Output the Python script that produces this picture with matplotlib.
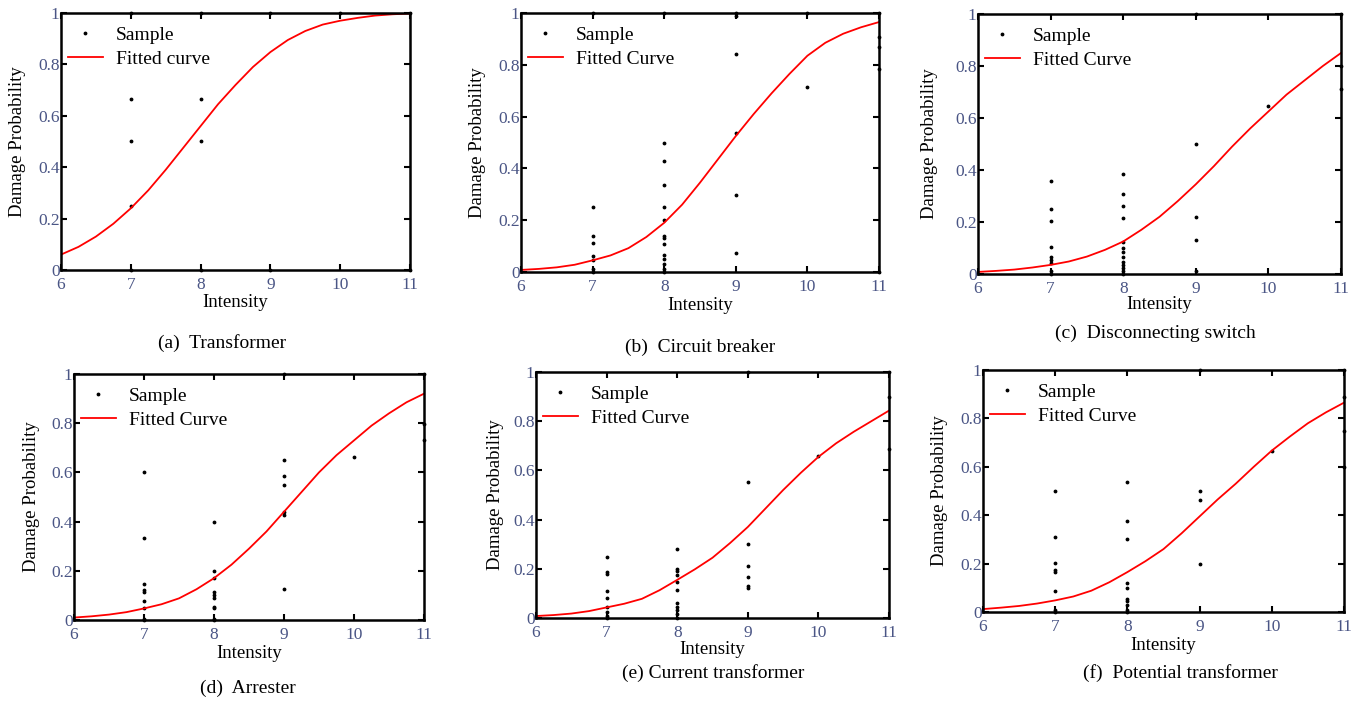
import matplotlib.pyplot as plt

plt.rcParams['font.family'] = ['Liberation Serif', 'DejaVu Serif']

W, H = 1359, 703

# fitted curves at 0.25 steps
curve_x = [6, 6.25, 6.5, 6.75, 7, 7.25, 7.5, 7.75, 8, 8.25, 8.5, 8.75,
           9, 9.25, 9.5, 9.75, 10, 10.25, 10.5, 10.75, 11]
curve_a = [0.06, 0.09, 0.13, 0.18, 0.24, 0.31, 0.39, 0.475, 0.56, 0.645, 0.72,
           0.79, 0.848, 0.895, 0.93, 0.955, 0.97, 0.981, 0.99, 0.995, 0.998]
curve_b = [0.008, 0.012, 0.018, 0.028, 0.045, 0.064, 0.092, 0.135, 0.19, 0.26,
           0.345, 0.435, 0.525, 0.61, 0.69, 0.765, 0.835, 0.885, 0.92, 0.945, 0.965]
curve_c = [0.008, 0.012, 0.017, 0.025, 0.035, 0.048, 0.067, 0.093, 0.125, 0.17,
           0.22, 0.28, 0.345, 0.415, 0.49, 0.56, 0.625, 0.69, 0.745, 0.80, 0.85]
curve_d = [0.01, 0.015, 0.022, 0.032, 0.047, 0.064, 0.088, 0.125, 0.17, 0.225,
           0.29, 0.36, 0.44, 0.52, 0.60, 0.67, 0.73, 0.79, 0.84, 0.885, 0.92]
curve_e = [0.008, 0.012, 0.018, 0.028, 0.043, 0.058, 0.078, 0.113, 0.155, 0.198,
           0.245, 0.305, 0.37, 0.445, 0.52, 0.59, 0.655, 0.71, 0.757, 0.80, 0.843]
curve_f = [0.012, 0.018, 0.025, 0.035, 0.048, 0.064, 0.088, 0.123, 0.165, 0.21,
           0.26, 0.325, 0.395, 0.465, 0.53, 0.60, 0.667, 0.725, 0.78, 0.825, 0.865]

# sample points
samp_a_x = [7, 7, 7, 7, 7, 8, 8, 8, 8, 9, 9, 10, 11, 11]
samp_a_y = [0, 0.25, 0.5, 0.667, 1, 0, 0.5, 0.667, 1, 0, 1, 1, 1, 0]

samp_b_x = [7] * 8 + [8] * 14 + [9] * 6 + [10] * 2 + [11] * 5
samp_b_y = [0, 0.01, 0.045, 0.06, 0.113, 0.139, 0.25, 1,
            0, 0.01, 0.032, 0.05, 0.064, 0.11, 0.133, 0.14, 0.2, 0.25, 0.337, 0.43, 0.5, 1,
            0.075, 0.296, 0.537, 0.843, 0.99, 1,
            0.714, 1,
            0, 0.785, 0.869, 0.907, 1]

samp_c_x = [7] * 9 + [8] * 13 + [9] * 5 + [10] + [11] * 3
samp_c_y = [0, 0.01, 0.041, 0.054, 0.064, 0.103, 0.204, 0.25, 0.358,
            0, 0.01, 0.022, 0.035, 0.047, 0.064, 0.083, 0.099, 0.122, 0.214, 0.263, 0.308, 0.385,
            0.01, 0.131, 0.218, 0.5, 1,
            0.646,
            0.71, 0.80, 1]

samp_d_x = [7] * 9 + [8] * 10 + [9] * 7 + [10] + [11] * 3
samp_d_y = [0, 0.004, 0.047, 0.077, 0.112, 0.122, 0.146, 0.335, 0.6,
            0, 0.003, 0.047, 0.054, 0.088, 0.1, 0.112, 0.17, 0.2, 0.4,
            0.126, 0.427, 0.44, 0.55, 0.585, 0.65, 1,
            0.664,
            0.73, 0.795, 1]

samp_e_x = [7] * 9 + [8] * 11 + [9] * 7 + [10] + [11] * 3
samp_e_y = [0, 0.008, 0.025, 0.045, 0.082, 0.11, 0.18, 0.186, 0.246,
            0, 0.018, 0.031, 0.045, 0.059, 0.114, 0.148, 0.175, 0.19, 0.198, 0.28,
            0.123, 0.131, 0.168, 0.213, 0.30, 0.551, 1,
            0.66,
            0.688, 0.897, 1]

samp_f_x = [7] * 8 + [8] * 10 + [9] * 4 + [10] + [11] * 4
samp_f_y = [0, 0.007, 0.085, 0.164, 0.172, 0.202, 0.308, 0.498,
            0, 0.007, 0.03, 0.047, 0.055, 0.099, 0.12, 0.301, 0.374, 0.539,
            0.2, 0.464, 0.5, 1,
            0.667,
            0.598, 0.748, 0.887, 1]

panels = [
    # axes box (left, top, right, bottom) px, xlabel y, ylabel x, caption (x, y), legend label
    ((61, 13, 410, 270), 303, 18, (222, 343), '(a)  Transformer', 'Fitted curve',
     samp_a_x, samp_a_y, curve_a),
    ((521, 13, 879, 272), 305, 477, (700, 347), '(b)  Circuit breaker', 'Fitted Curve',
     samp_b_x, samp_b_y, curve_b),
    ((978, 14, 1341, 274), 305, 930, (1155, 333), '(c)  Disconnecting switch', 'Fitted Curve',
     samp_c_x, samp_c_y, curve_c),
    ((74, 374, 424, 620), 653, 32, (248, 688), '(d)  Arrester', 'Fitted Curve',
     samp_d_x, samp_d_y, curve_d),
    ((536, 372, 889, 618), 650, 495, (713, 673), '(e) Current transformer', 'Fitted Curve',
     samp_e_x, samp_e_y, curve_e),
    ((983, 370, 1344, 612), 645, 939, (1180, 673), '(f)  Potential transformer', 'Fitted Curve',
     samp_f_x, samp_f_y, curve_f),
]

tick_col = '#4a5585'

fig = plt.figure(figsize=(W / 100, H / 100), dpi=100)

for box, xl_y, yl_x, cap, cap_txt, fit_lbl, sx, sy, cy in panels:
    l, t, r, b = box
    ax = fig.add_axes([l / W, 1 - b / H, (r - l) / W, (b - t) / H])
    ax.plot(sx, sy, '.', color='black', markersize=3.5, label='Sample', clip_on=False)
    ax.plot(curve_x, cy, '-', color='red', linewidth=1.3, label=fit_lbl)
    ax.set_xlim(6, 11)
    ax.set_ylim(0, 1)
    ax.set_xticks([6, 7, 8, 9, 10, 11])
    ax.set_yticks([0, 0.2, 0.4, 0.6, 0.8, 1])
    ax.set_yticklabels(['0', '0.2', '0.4', '0.6', '0.8', '1'])
    ax.tick_params(direction='in', top=True, right=True, length=4, width=1.5,
                   labelsize=12.5, labelcolor=tick_col)
    ax.tick_params(axis='x', pad=5)
    ax.tick_params(axis='y', pad=1)
    for s in ax.spines.values():
        s.set_linewidth(1.8)

    ax.set_xlabel('Intensity', fontsize=13.5)
    ax.xaxis.set_label_coords(0.5, (b - xl_y) / (b - t))
    ax.xaxis.label.set_va('center')
    ax.set_ylabel('Damage Probability', fontsize=13.5)
    ax.yaxis.set_label_coords((yl_x - l) / (r - l), 0.5)
    ax.yaxis.label.set_va('center')

    ax.legend(loc='upper left', bbox_to_anchor=(-7 / (r - l), 1.0), frameon=False, fontsize=14,
              handlelength=1.8, handletextpad=0.7, labelspacing=0.3,
              borderaxespad=0.2, borderpad=0.5)

    fig.text(cap[0] / W, 1 - cap[1] / H, cap_txt, fontsize=14, ha='center', va='center')

fig.savefig('out.png', dpi=100)
